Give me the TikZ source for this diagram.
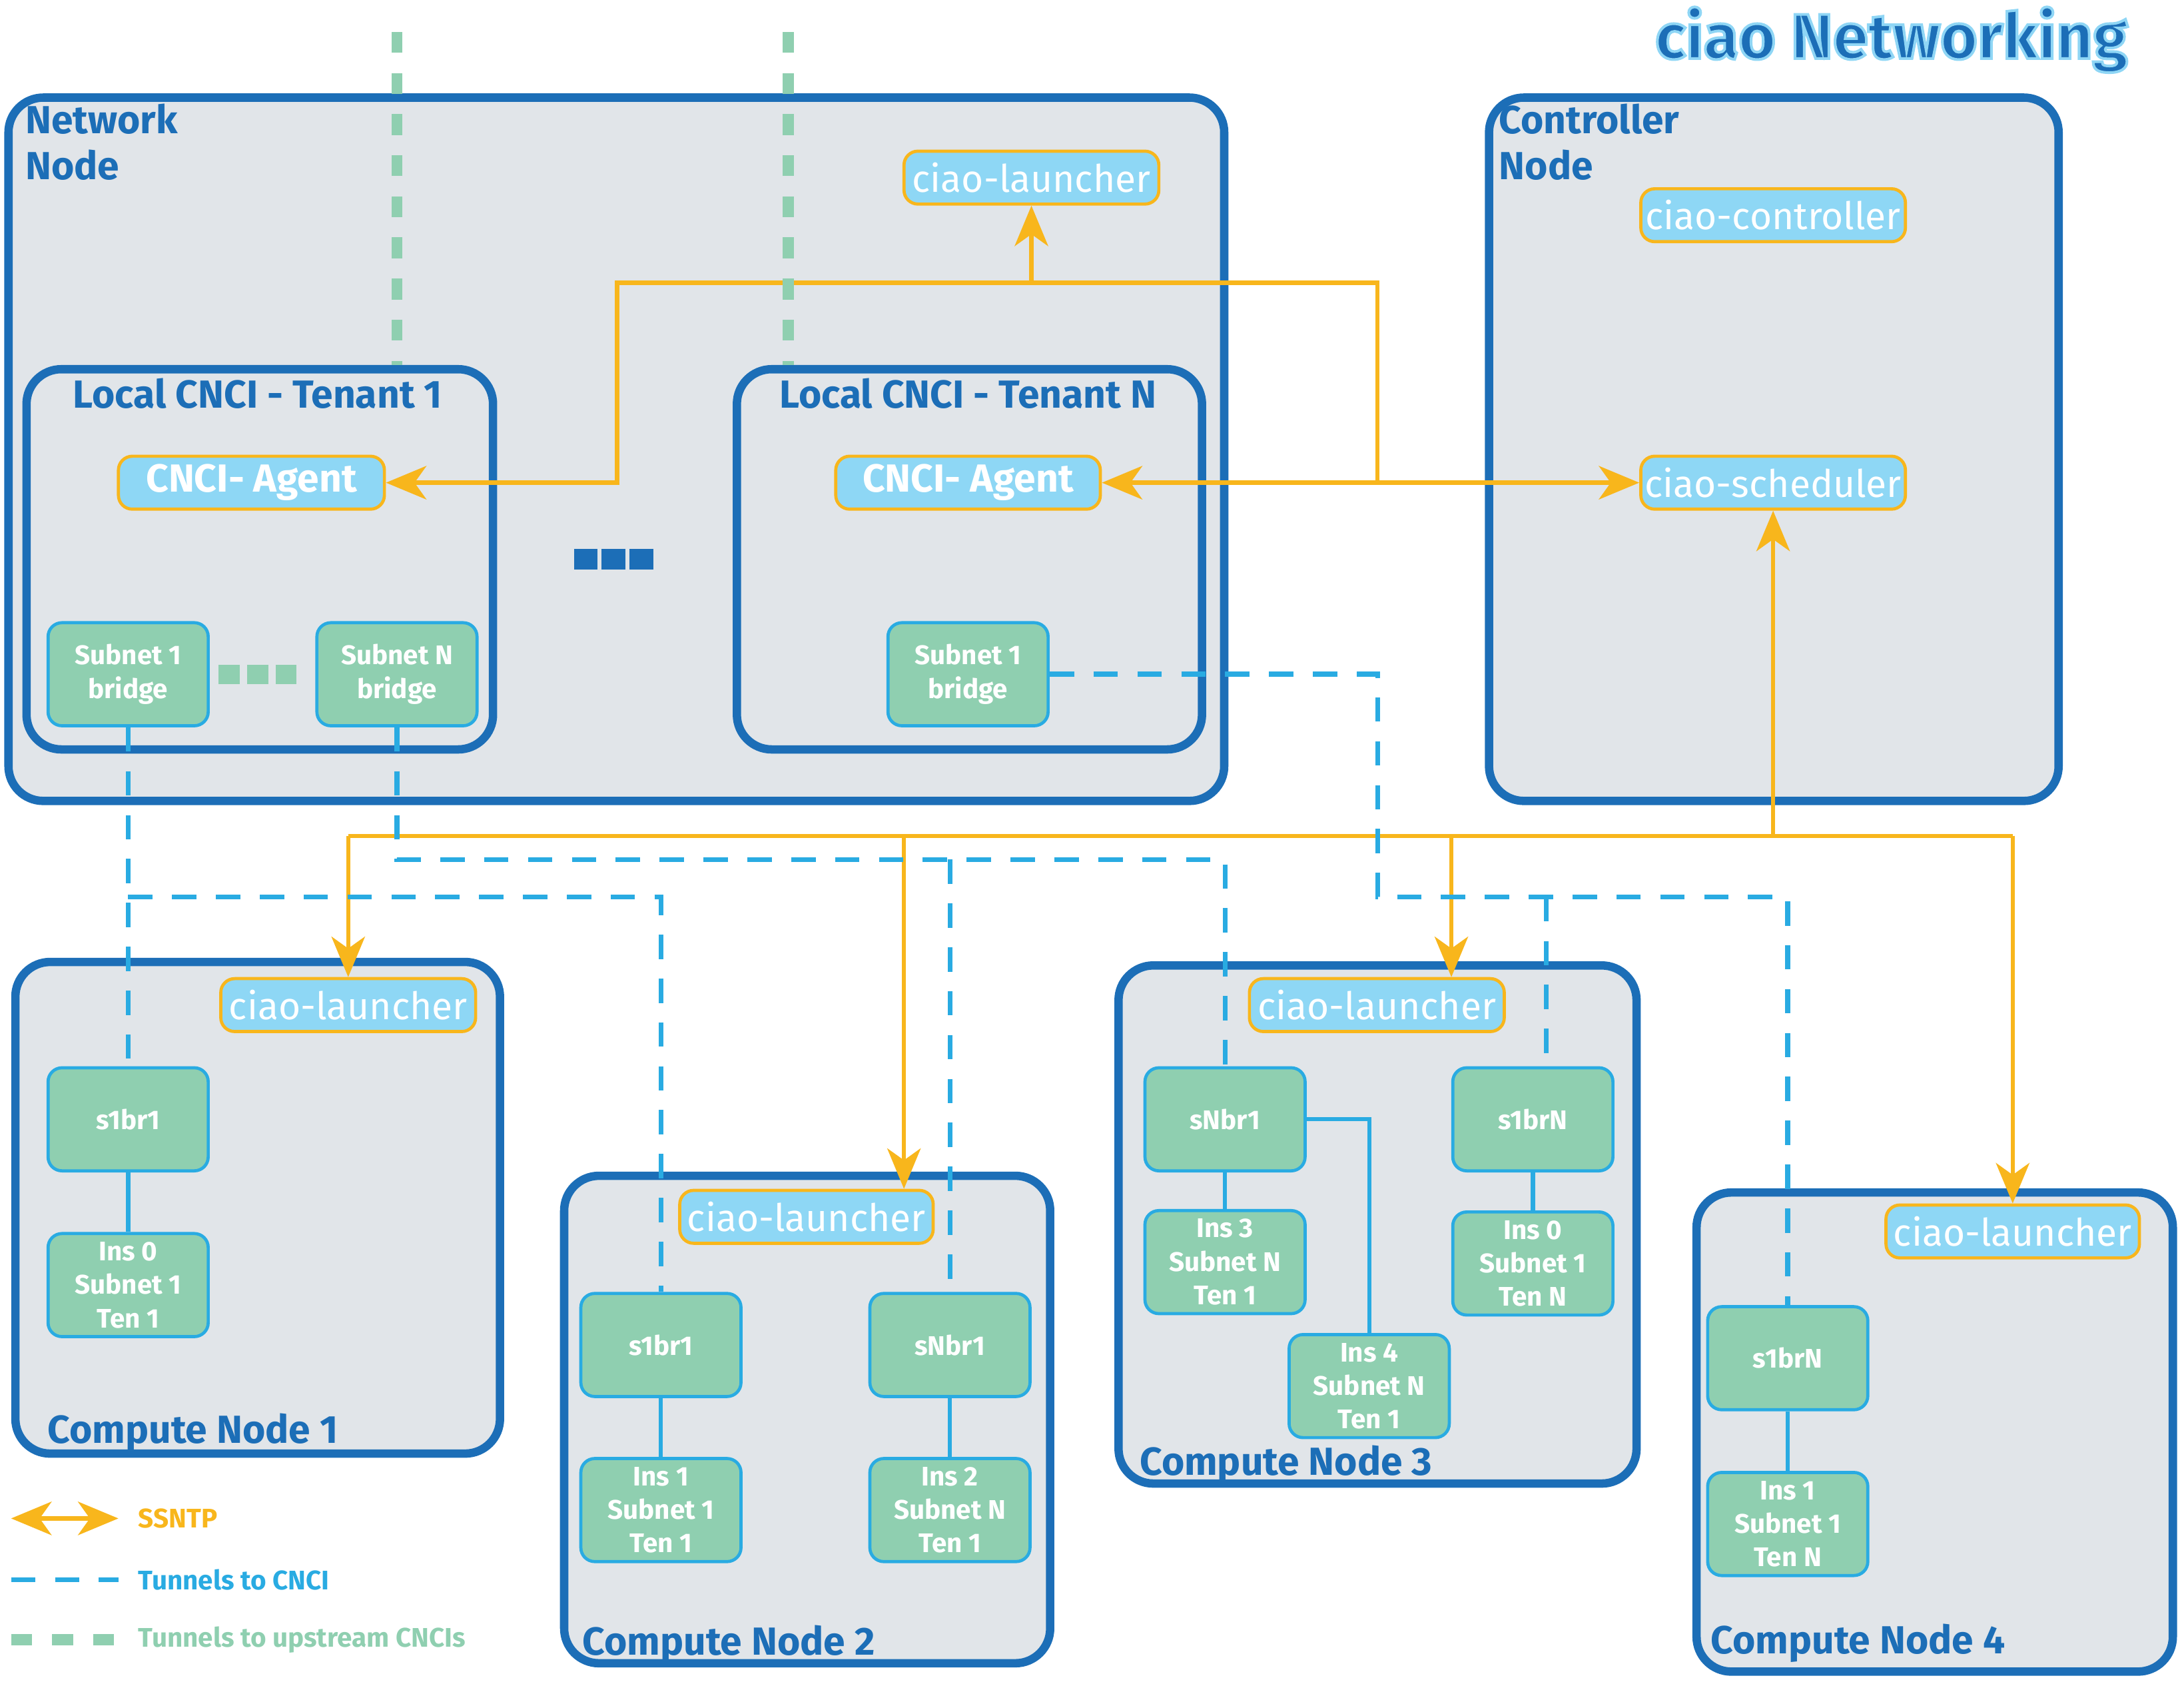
\documentclass[tikz,border=0pt]{standalone}
\usepackage{fontspec}
\setmainfont{Fira Sans}
\usepackage{tikz}
\usetikzlibrary{calc,arrows.meta}

\definecolor{nblue}{RGB}{28,110,183}
\definecolor{lblue}{RGB}{142,215,245}
\definecolor{orng}{RGB}{248,182,28}
\definecolor{tblue}{RGB}{41,171,226}
\definecolor{gfill}{RGB}{143,207,176}
\definecolor{ngray}{RGB}{225,229,233}

\begin{document}
\begin{tikzpicture}[x = 0.02cm, y = -0.02cm,
    >={Stealth[length = 0.58cm, width = 0.48cm, inset = 0.17cm]},
    host/.style = {draw = nblue, fill = ngray, line width = 0.12cm, rounded corners = 0.5cm, inner sep = 0},
    svc/.style = {draw = orng, fill = lblue, line width = 0.045cm, rounded corners = 0.2cm, text = white,
        minimum height = 0.76cm, inner sep = 0, font = \fontsize{15.5}{18}\selectfont},
    brg/.style = {draw = tblue, fill = gfill, line width = 0.045cm, rounded corners = 0.2cm, text = white,
        minimum width = 2.3cm, minimum height = 1.48cm, inner sep = 0, align = center,
        font = \fontsize{11}{13.7}\selectfont\bfseries},
    hlabel/.style = {text = nblue, inner sep = 0, align = left, font = \fontsize{16}{19}\selectfont\bfseries},
    lgd/.style = {anchor = west, inner sep = 0, font = \fontsize{11}{13}\selectfont\bfseries},
    ssntp/.style = {draw = orng, line width = 0.06cm},
    tun/.style = {draw = tblue, line width = 0.07cm, dash pattern = on 0.35cm off 0.28cm},
    upst/.style = {draw = gfill, line width = 0.16cm, dash pattern = on 0.3cm off 0.29cm},
    link/.style = {draw = tblue, line width = 0.06cm}]

    \useasboundingbox (0, 0) rectangle (1568, 1207);

    %%%%%%%%%% hosts %%%%%%%%%%%%%%%%%%%
    \node [host, minimum width = 17.46cm, minimum height = 10.1cm] (netnode) at (442.5, 322.5) {};
    \node [host, minimum width = 8.18cm, minimum height = 10.1cm] (ctrlnode) at (1273.5, 322.5) {};
    \node [host, minimum width = 6.7cm, minimum height = 5.46cm] (tenA) at (186.5, 401.5) {};
    \node [host, minimum width = 6.68cm, minimum height = 5.46cm] (tenN) at (696, 401.5) {};
    \node [host, minimum width = 6.96cm, minimum height = 7.06cm] (cn1) at (185, 867) {};
    \node [host, minimum width = 6.98cm, minimum height = 7.0cm] (cn2) at (579.5, 1019) {};
    \node [host, minimum width = 7.44cm, minimum height = 7.44cm] (cn3) at (989, 879) {};
    \node [host, minimum width = 6.84cm, minimum height = 6.88cm] (cn4) at (1389, 1028) {};

    \node [hlabel, anchor = north west] (netlbl) at (18, 74) {Network\\Node};
    \node [hlabel, anchor = north west] (ctrllbl) at (1076, 74) {Controller\\Node};
    \node [hlabel, anchor = base] (tenAlbl) at (185, 293) {Local CNCI - Tenant 1};
    \node [hlabel, anchor = base] (tenNlbl) at (695, 293) {Local CNCI - Tenant N};
    \node [hlabel, anchor = base west] (cn1lbl) at (34, 1036) {Compute Node 1};
    \node [hlabel, anchor = base west] (cn2lbl) at (418, 1188) {Compute Node 2};
    \node [hlabel, anchor = base west] (cn3lbl) at (818, 1059) {Compute Node 3};
    \node [hlabel, anchor = base west] (cn4lbl) at (1228, 1187) {Compute Node 4};

    %%%%%%%%%% services %%%%%%%%%%%%%%%%%%%
    \node [svc, minimum width = 3.66cm] (launchN) at (740.5, 127.5) {ciao-launcher};
    \node [svc, minimum width = 3.8cm] (ctrl) at (1273, 154.5) {ciao-controller};
    \node [svc, minimum width = 3.8cm] (sched) at (1273, 346.5) {ciao-scheduler};
    \node [svc, minimum width = 3.82cm, font = \fontsize{16}{20}\selectfont\bfseries] (agentA) at (180.5, 346.5) {CNCI- Agent};
    \node [svc, minimum width = 3.8cm, font = \fontsize{16}{20}\selectfont\bfseries] (agentN) at (695, 346.5) {CNCI- Agent};
    \node [svc, minimum width = 3.66cm] (launch1) at (250, 721.5) {ciao-launcher};
    \node [svc, minimum width = 3.64cm] (launch2) at (579, 873.5) {ciao-launcher};
    \node [svc, minimum width = 3.66cm] (launch3) at (988.5, 721.5) {ciao-launcher};
    \node [svc, minimum width = 3.64cm] (launch4) at (1445, 884) {ciao-launcher};

    %%%%%%%%%% bridges and instances %%%%%%%%%%%%%%%%%%%
    \foreach \n/\x/\y/\t in {brA1/92/484/{Subnet 1\\bridge}, brAN/285/484/{Subnet N\\bridge}, brN1/695/484/{Subnet 1\\bridge},
        c1br/92/803.5/s1br1, c1ins/92/922.5/{Ins 0\\Subnet 1\\Ten 1},
        c2br/474.5/965.5/s1br1, c2ins/474.5/1084/{Ins 1\\Subnet 1\\Ten 1},
        c2nbr/682/965.5/sNbr1, c2nins/682/1084/{Ins 2\\Subnet N\\Ten 1},
        c3nbr/879.5/803.5/sNbr1, c3nins/879.5/906/{Ins 3\\Subnet N\\Ten 1},
        c3br/1100.5/803.5/s1brN, c3ins/1100.5/907/{Ins 0\\Subnet 1\\Ten N},
        c3ins4/983/995/{Ins 4\\Subnet N\\Ten 1},
        c4br/1283.5/975/s1brN, c4ins/1283.5/1094/{Ins 1\\Subnet 1\\Ten N}} {
        \node [brg] (\n) at (\x, \y) {\t};
    }

    % dots
    \foreach \i in {0, 1, 2} {
        \fill [nblue] (412 + \i*20, 394) rectangle ++(17, 15);
        \fill [gfill] (157 + \i*20.5, 477) rectangle ++(15, 14);
    }

    %%%%%%%%%% SSNTP %%%%%%%%%%%%%%%%%%%
    \coordinate (lnA) at (443, 203);
    \coordinate (lnB) at (989, 203);
    \draw [ssntp, <-] (agentA.east)  -|  (lnA)  --  (lnB)  --  (lnB |- sched.west);
    \draw [ssntp, ->] (launchN.south |- lnA)  --  (launchN.south);
    \draw [ssntp, <->] (agentN.east)  --  (sched.west);

    \coordinate (busW) at (250, 600);
    \coordinate (busE) at (1445, 600);
    \coordinate (dropB) at (649, 600);
    \coordinate (dropC) at (1042, 600);
    \draw [ssntp] (busW)  --  (busE);
    \draw [ssntp, ->] (sched.south |- busW)  --  (sched.south);
    \draw [ssntp, ->] (busW)  --  (launch1.north);
    \draw [ssntp, ->] (dropB)  --  (dropB |- launch2.north);
    \draw [ssntp, ->] (dropC)  --  (dropC |- launch3.north);
    \draw [ssntp, ->] (busE)  --  (launch4.north);

    %%%%%%%%%% upstream tunnels %%%%%%%%%%%%%%%%%%%
    \coordinate (upA) at (285, 23);
    \coordinate (upN) at (566, 23);
    \draw [upst] (upA)  --  (upA |- tenA.north);
    \draw [upst] (upN)  --  (upN |- tenN.north);

    %%%%%%%%%% tunnels to CNCI %%%%%%%%%%%%%%%%%%%
    \coordinate (tapA) at (92, 644);
    \coordinate (tapB) at (285, 617);
    \coordinate (tapC) at (682, 617);
    \coordinate (tapD) at (989, 644);
    \coordinate (tapE) at (1110, 644);
    \draw [tun] (brA1.south)  --  (c1br.north);
    \draw [tun] (tapA)  -|  (c2br.north);
    \draw [tun] (brAN.south)  --  (tapB)  -|  (c3nbr.north);
    \draw [tun] (tapC)  --  (c2nbr.north);
    \draw [tun] (brN1.east)  -|  (tapD)  -|  (c4br.north);
    \draw [tun] (tapE)  --  (tapE |- c3br.north);

    % inside compute nodes
    \draw [link] (c1br.south)  --  (c1ins.north);
    \draw [link] (c2br.south)  --  (c2ins.north);
    \draw [link] (c2nbr.south)  --  (c2nins.north);
    \draw [link] (c3nbr.south)  --  (c3nins.north);
    \draw [link] (c3nbr.east)  -|  (c3ins4.north);
    \draw [link] (c3br.south)  --  (c3ins.north);
    \draw [link] (c4br.south)  --  (c4ins.north);

    %%%%%%%%%% legend %%%%%%%%%%%%%%%%%%%
    \coordinate (lgA) at (8, 1090);
    \coordinate (lgB) at (85, 1090);
    \coordinate (lgC) at (8, 1134);
    \coordinate (lgD) at (85, 1134);
    \coordinate (lgE) at (8, 1177);
    \coordinate (lgF) at (85, 1177);
    \draw [ssntp, <->] (lgA)  --  (lgB);
    \draw [tun] (lgC)  --  (lgD);
    \draw [upst] (lgE)  --  (lgF);
    \node [lgd, text = orng] (lgssntp) at (99, 1090) {SSNTP};
    \node [lgd, text = tblue] (lgtun) at (99, 1134) {Tunnels to CNCI};
    \node [lgd, text = gfill] (lgup) at (99, 1177) {Tunnels to upstream CNCIs};

    % title
    \node [text = nblue, inner sep = 0, anchor = base east, font = \fontsize{26}{32}\selectfont\bfseries] (title) at (1528, 42)
        {\special{pdf:literal direct 2 Tr 1.1 w 0.56 0.84 0.96 RG}ciao Networking\special{pdf:literal direct 0 Tr}};
\end{tikzpicture}
\end{document}
